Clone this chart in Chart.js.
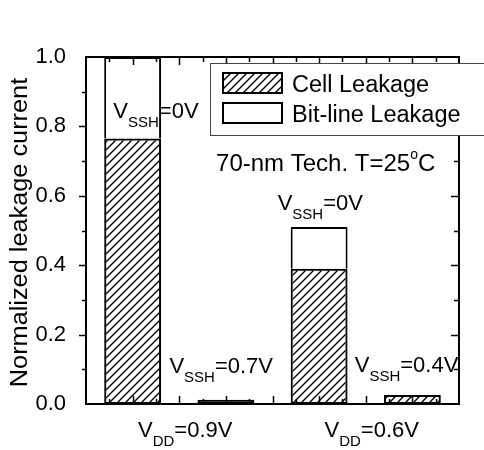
<!DOCTYPE html>
<html>
<head>
<meta charset="utf-8">
<script src="https://cdn.jsdelivr.net/npm/chart.js@4.4.1/dist/chart.umd.min.js"></script>
<style>
  html, body { margin: 0; padding: 0; background: #fff; }
  #wrap { width: 484px; height: 450px; }
</style>
</head>
<body>
<div id="wrap"><canvas id="leak" width="484" height="450"></canvas></div>
<script>
// bar positions on the numeric x axis (0..16) and stacked values
const barX = [2, 6, 10, 14];
const cellLeak = [0.765, 0.012, 0.39, 0.026];
const bitLeak = [0.235, null, 0.12, null];
const yTicks = [0, 0.2, 0.4, 0.6, 0.8, 1.0];

// labels under each supply voltage group and V_SSH notes above bars
const vddValues = ["0.9V", "0.6V"];
const vddCenters = [4, 12];
const vsshValues = ["0V", "0.7V", "0V", "0.4V"];

const FONT = '"Liberation Sans", Arial, Helvetica, sans-serif';

// diagonal hatch used for the cell leakage part
function makeHatch() {
  const c = document.createElement("canvas");
  c.width = 8; c.height = 8;
  const g = c.getContext("2d");
  g.strokeStyle = "#000";
  g.lineWidth = 1.4;
  g.beginPath();
  g.moveTo(0, 8); g.lineTo(8, 0);
  g.moveTo(-1, 1); g.lineTo(1, -1);
  g.moveTo(7, 9); g.lineTo(9, 7);
  g.stroke();
  return g.createPattern(c, "repeat");
}
const hatch = makeHatch();

// draws text built from pieces (main / subscript / superscript), centred or left aligned
function richText(ctx, parts, x, y, align) {
  let total = 0;
  parts.forEach(p => {
    ctx.font = p.size + "px " + FONT;
    p.w = ctx.measureText(p.t).width;
    total += p.w;
  });
  let cx = align === "center" ? x - total / 2 : x;
  ctx.textAlign = "left";
  ctx.textBaseline = "alphabetic";
  parts.forEach(p => {
    ctx.font = p.size + "px " + FONT;
    ctx.fillText(p.t, cx, y + (p.dy || 0));
    cx += p.w;
  });
}

function vLabel(sub, val) {
  return [
    { t: "V", size: 22 },
    { t: sub, size: 15, dy: 9 },
    { t: "=" + val, size: 22 }
  ];
}

// where the V_SSH notes sit, in axis units
const vsshPos = [[3.0, 0.824], [5.8, 0.089], [10.05, 0.559], [13.75, 0.092]];

const framePlugin = {
  id: "frame",
  afterDraw(chart) {
    const ctx = chart.ctx;
    const a = chart.chartArea;
    const xs = chart.scales.x, ys = chart.scales.y;
    ctx.save();
    ctx.strokeStyle = "#000";
    ctx.fillStyle = "#000";

    // tick marks: x in on top/bottom, y out on the left, in on the right
    ctx.lineWidth = 1.5;
    ctx.beginPath();
    for (let v = 1; v < 16; v++) {
      const px = Math.round(xs.getPixelForValue(v)) + 0.5;
      const len = v % 2 === 0 ? 8 : 5;
      ctx.moveTo(px, a.bottom); ctx.lineTo(px, a.bottom - len);
      ctx.moveTo(px, a.top); ctx.lineTo(px, a.top + len);
    }
    for (let k = 1; k < 10; k++) {
      const py = Math.round(ys.getPixelForValue(k / 10)) + 0.5;
      const len = k % 2 === 0 ? 7 : 4;
      ctx.moveTo(a.left - len, py); ctx.lineTo(a.left, py);
      ctx.moveTo(a.right - len - 1, py); ctx.lineTo(a.right, py);
    }
    ctx.stroke();

    // axis box
    ctx.lineWidth = 2;
    ctx.strokeRect(a.left, a.top, a.right - a.left, a.bottom - a.top);

    // y axis title
    ctx.save();
    ctx.translate(21, (a.top + a.bottom) / 2 + 2);
    ctx.rotate(-Math.PI / 2);
    ctx.scale(1.1, 1);
    ctx.font = "23px " + FONT;
    ctx.textAlign = "center";
    ctx.textBaseline = "middle";
    ctx.fillText("Normalized leakage current", 0, 0);
    ctx.restore();

    // legend box, runs past the right edge of the plot
    const lx = a.left + 124, ly = a.top + 6;
    ctx.fillStyle = "#fff";
    ctx.fillRect(lx, ly, 300, 72);
    ctx.strokeStyle = "#444";
    ctx.lineWidth = 1;
    ctx.strokeRect(lx + 0.5, ly + 0.5, 300, 72);
    const ds = chart.data.datasets;
    ctx.lineWidth = 2;
    ctx.strokeStyle = "#000";
    ds.forEach((d, i) => {
      const sy = ly + 10 + i * 30;
      ctx.fillStyle = d.backgroundColor;
      ctx.fillRect(lx + 13, sy, 59, 20);
      ctx.strokeRect(lx + 13, sy, 59, 20);
      ctx.fillStyle = "#000";
      ctx.font = "23.5px " + FONT;
      ctx.textAlign = "left";
      ctx.textBaseline = "alphabetic";
      ctx.fillText(d.label, lx + 82, sy + 19);
    });

    ctx.fillStyle = "#000";
    // technology note
    richText(ctx, [
      { t: "70-nm Tech. T=25", size: 24 },
      { t: "o", size: 14, dy: -12 },
      { t: "C", size: 24 }
    ], xs.getPixelForValue(10.28), ys.getPixelForValue(0.671), "center");

    // V_SSH notes next to each bar
    vsshValues.forEach((v, i) => {
      const p = vsshPos[i];
      richText(ctx, vLabel("SSH", v), xs.getPixelForValue(p[0]), ys.getPixelForValue(p[1]), "center");
    });

    // V_DD group labels under the axis
    vddValues.forEach((v, i) => {
      richText(ctx, vLabel("DD", v), xs.getPixelForValue(vddCenters[i]) + 6, a.bottom + 33, "center");
    });
    ctx.restore();
  }
};

new Chart(document.getElementById("leak"), {
  type: "bar",
  data: {
    datasets: [
      {
        label: "Cell Leakage",
        data: barX.map((x, i) => ({ x, y: cellLeak[i] })),
        backgroundColor: hatch,
        borderColor: "#000",
        borderWidth: 2,
        borderSkipped: false
      },
      {
        // bottom edge is shared with the cell part's top border
        label: "Bit-line Leakage",
        data: barX.map((x, i) => ({ x, y: bitLeak[i] })),
        backgroundColor: "#fff",
        borderColor: "#000",
        borderWidth: 2,
        borderSkipped: "start"
      }
    ]
  },
  options: {
    responsive: false,
    devicePixelRatio: 1,
    animation: false,
    layout: { padding: { top: 57, right: 25, bottom: 46, left: 0 } },
    datasets: { bar: { categoryPercentage: 1, barPercentage: 0.61 } },
    plugins: { legend: { display: false }, tooltip: { enabled: false } },
    scales: {
      x: {
        type: "linear",
        stacked: true,
        offset: false,
        min: 0,
        max: 16,
        grid: { display: false },
        border: { display: false },
        afterBuildTicks: (s) => { s.ticks = barX.map(v => ({ value: v })); },
        ticks: { display: false },
        afterFit: (s) => { s.height = 0; }
      },
      y: {
        stacked: true,
        min: 0,
        max: 1,
        grid: { display: false },
        border: { display: false },
        afterBuildTicks: (s) => { s.ticks = yTicks.map(v => ({ value: v })); },
        ticks: {
          color: "#000",
          padding: 12,
          font: { family: FONT, size: 22 },
          callback: (v) => Number(v).toFixed(1)
        },
        afterFit: (s) => { s.width = 86; }
      }
    }
  },
  plugins: [framePlugin]
});
</script>
</body>
</html>
